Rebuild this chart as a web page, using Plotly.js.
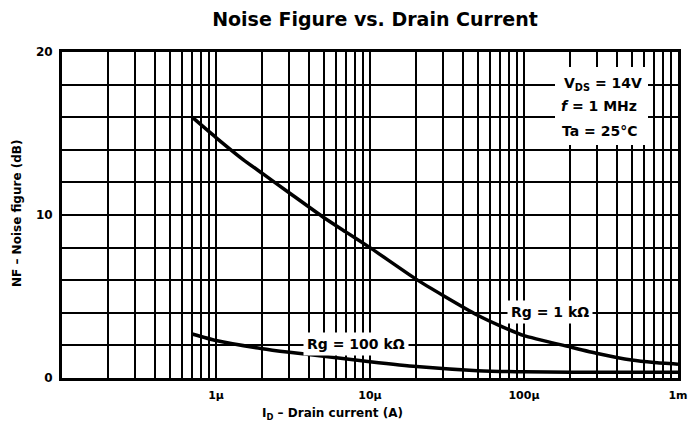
<!DOCTYPE html>
<html>
<head>
<meta charset="utf-8">
<script src="https://cdn.plot.ly/plotly-3.0.1.min.js"></script>
<style>html,body{margin:0;padding:0;background:#fff;}#chart{width:688px;height:435px;}</style>
</head>
<body>
<div id="chart"></div>
<script>
// Drain current (A) and noise figure (dB)
var currentRg1k = [0.7e-6, 1e-6, 1.5e-6, 2e-6, 3e-6, 5e-6, 7e-6, 10e-6, 20e-6, 30e-6, 50e-6, 70e-6, 100e-6, 200e-6, 300e-6, 500e-6, 700e-6, 1e-3];
var nfRg1k      = [16.0, 14.75, 13.4, 12.55, 11.35, 9.85, 8.95, 8.0, 6.05, 5.05, 3.85, 3.2, 2.6, 1.9, 1.5, 1.1, 0.95, 0.85];

var currentRg100k = [0.7e-6, 1e-6, 2e-6, 3e-6, 5e-6, 10e-6, 20e-6, 50e-6, 100e-6, 200e-6, 500e-6, 1e-3];
var nfRg100k      = [2.7, 2.3, 1.8, 1.58, 1.33, 1.0, 0.7, 0.45, 0.38, 0.36, 0.35, 0.35];

var xDecades = [1e-7, 1e-6, 1e-5, 1e-4, 1e-3];
var xDecadeLabels = ["", "1\u00b5", "10\u00b5", "100\u00b5", "1m"];
var yGridValues = [0, 2, 4, 6, 8, 10, 12, 14, 16, 18, 20];
var yTickLabels = ["0", "", "", "", "", "10", "", "", "", "", "20"];

var xTickVals = [], xTickText = [];
for (var d = 0; d < xDecades.length; d++) {
  var kmax = (d === xDecades.length - 1) ? 1 : 9;
  for (var k = 1; k <= kmax; k++) {
    xTickVals.push(xDecades[d] * k);
    xTickText.push(k === 1 ? xDecadeLabels[d] : "");
  }
}

var FONT = "DejaVu Sans, Liberation Sans, Arial, sans-serif";

var traces = [
  {x: currentRg1k, y: nfRg1k, type: "scatter", mode: "lines", line: {color: "#000", width: 3.5, shape: "spline", smoothing: 0.5}, hoverinfo: "skip"},
  {x: currentRg100k, y: nfRg100k, type: "scatter", mode: "lines", line: {color: "#000", width: 3.5, shape: "spline", smoothing: 0.5}, hoverinfo: "skip"}
];

function px2x(p) { return (p - 62) / 616; }
function px2y(p) { return (378 - p) / 326; }

var annFont = {family: FONT, size: 14, color: "#000", weight: "bold"};

var layout = {
  width: 688, height: 435,
  margin: {l: 62, r: 10, t: 52, b: 57},
  paper_bgcolor: "#fff", plot_bgcolor: "#fff",
  showlegend: false,
  title: {text: "Noise Figure vs. Drain Current", x: 0.545, xanchor: "center", y: 0.955, yanchor: "middle",
          font: {family: FONT, size: 19, color: "#000", weight: "bold"}},
  xaxis: {
    type: "log", range: [-7, -3],
    tickmode: "array", tickvals: xTickVals, ticktext: xTickText, tickangle: 0,
    showgrid: true, gridcolor: "#000", gridwidth: 2,
    showline: true, mirror: true, linecolor: "#000", linewidth: 3,
    ticks: "", ticklabelstandoff: 5, zeroline: false,
    tickfont: {family: FONT, size: 11, color: "#000", weight: "bold"}
  },
  yaxis: {
    range: [0, 20],
    tickmode: "array", tickvals: yGridValues, ticktext: yTickLabels,
    showgrid: true, gridcolor: "#000", gridwidth: 2,
    showline: true, mirror: true, linecolor: "#000", linewidth: 3,
    ticks: "", ticklabelstandoff: 4, zeroline: false,
    tickfont: {family: FONT, size: 12, color: "#000", weight: "bold"}
  },
  shapes: [
    {type: "rect", xref: "paper", yref: "paper", x0: px2x(555), x1: px2x(648), y0: px2y(145), y1: px2y(67),
     fillcolor: "#fff", line: {width: 0}, layer: "above"}
  ],
  annotations: [
    {xref: "paper", yref: "paper", x: px2x(603), y: px2y(84), text: "V<sub>DS</sub> = 14V", showarrow: false, font: annFont, xanchor: "center", yanchor: "middle"},
    {xref: "paper", yref: "paper", x: px2x(599), y: px2y(106), text: "<i>f</i> = 1 MHz", showarrow: false, font: annFont, xanchor: "center", yanchor: "middle"},
    {xref: "paper", yref: "paper", x: px2x(599), y: px2y(131), text: "Ta = 25\u00b0C", showarrow: false, font: annFont, xanchor: "center", yanchor: "middle"},
    {xref: "paper", yref: "paper", x: px2x(550), y: px2y(312), text: "Rg = 1 k\u03a9", showarrow: false, font: annFont, xanchor: "center", yanchor: "middle", bgcolor: "#fff", borderpad: 3},
    {xref: "paper", yref: "paper", x: px2x(356), y: px2y(344), text: "Rg = 100 k\u03a9", showarrow: false, font: annFont, xanchor: "center", yanchor: "middle", bgcolor: "#fff", borderpad: 3},
    {xref: "paper", yref: "paper", x: px2x(332), y: px2y(414), text: "I<sub>D</sub> \u2013 Drain current (A)", showarrow: false,
     font: {family: FONT, size: 12, color: "#000", weight: "bold"}, xanchor: "center", yanchor: "middle"},
    {xref: "paper", yref: "paper", x: px2x(17), y: px2y(214), text: "NF \u2013 Noise figure (dB)", showarrow: false, textangle: -90,
     font: {family: FONT, size: 12, color: "#000", weight: "bold"}, xanchor: "center", yanchor: "middle"}
  ]
};

Plotly.newPlot("chart", traces, layout, {staticPlot: true, displayModeBar: false});
</script>
</body>
</html>
